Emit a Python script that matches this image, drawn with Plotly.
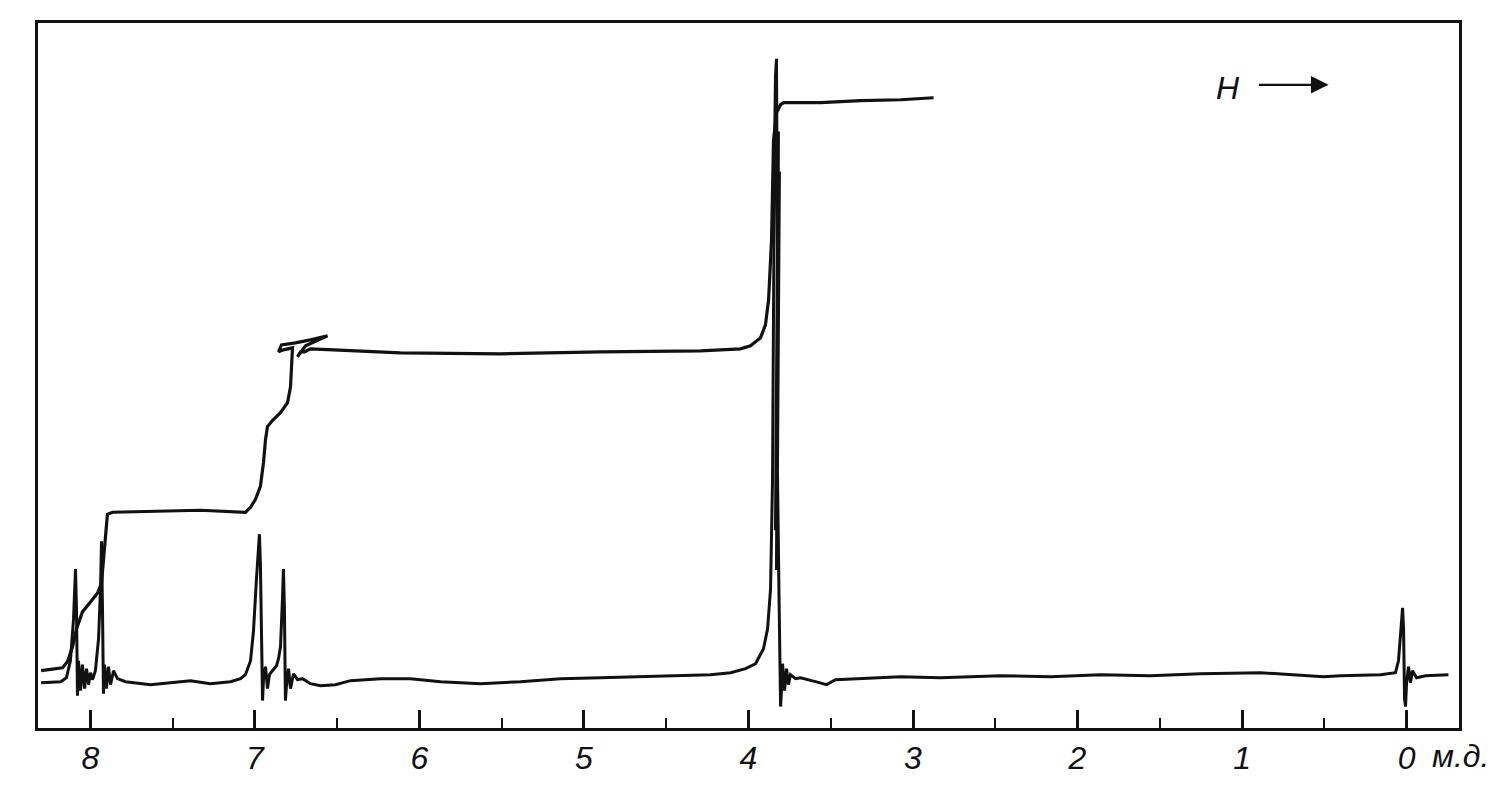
import plotly.graph_objects as go

# ---- data (chemical shift in ppm, intensity in arbitrary units) ----
spec_ppm = [8.30, 8.18, 8.146, 8.122, 8.103, 8.091, 8.085, 8.079, 8.073, 8.061, 8.049, 8.036, 8.024,
            8.012, 8.000, 7.988, 7.970, 7.951, 7.939, 7.933, 7.927, 7.921, 7.915, 7.903, 7.891, 7.878,
            7.860, 7.836, 7.787, 7.635, 7.514, 7.392, 7.271, 7.149, 7.088, 7.058, 7.027, 7.009, 6.991,
            6.979, 6.973, 6.967, 6.960, 6.954, 6.948, 6.936, 6.924, 6.912, 6.894, 6.869, 6.857, 6.845,
            6.833, 6.827, 6.821, 6.815, 6.809, 6.796, 6.784, 6.766, 6.742, 6.711, 6.663, 6.602, 6.511,
            6.419, 6.237, 6.055, 5.872, 5.629, 5.386, 5.143, 4.900, 4.657, 4.413, 4.231, 4.109, 4.018,
            3.957, 3.909, 3.884, 3.866, 3.854, 3.848, 3.842, 3.836, 3.830, 3.824, 3.836, 3.818, 3.830,
            3.812, 3.824, 3.815, 3.805, 3.799, 3.793, 3.781, 3.769, 3.757, 3.745, 3.714, 3.684, 3.593,
            3.526, 3.471, 3.319,
            3.076, 2.833, 2.468, 2.164, 1.860, 1.556, 1.252, 0.888, 0.644, 0.505, 0.401, 0.158, 0.067,
            0.049, 0.036, 0.024, 0.018, 0.012, 0.006, 0.000, -0.012, -0.024, -0.036, -0.061, -0.116,
            -0.255]
spec_int = [47, 48, 52, 69, 111, 161, 121, 34, 69, 39, 65, 41, 61,
            45, 57, 50, 59, 91, 141, 189, 121, 36, 65, 41, 63, 45,
            59, 51, 48, 45, 47, 49, 46, 48, 51, 55, 69, 99, 151,
            191, 196, 166, 91, 29, 51, 63, 41, 55, 59, 64, 71, 83,
            131, 161, 121, 29, 43, 61, 41, 56, 50, 51, 46, 44, 45,
            49, 51, 51, 48, 46, 48, 51, 52, 53, 54, 55, 57, 61,
            66, 81, 101, 141, 251, 431, 581, 656, 673, 480, 200, 600, 160,
            560, 260, 140, 23, 41, 66, 39, 61, 45, 55, 51, 52, 48,
            45, 50, 51,
            53, 52, 54, 53, 55, 54, 56, 57, 54, 53, 54, 55, 57,
            69, 96, 122, 101, 31, 23, 46, 63, 47, 59, 52, 54,
            55]

integ_ppm = [8.30, 8.17, 8.140, 8.109, 8.085, 8.049, 8.000, 7.957, 7.933, 7.921, 7.909, 7.897, 7.866,
             7.635, 7.331, 7.058, 7.027, 6.997, 6.967, 6.948, 6.936, 6.924, 6.894, 6.845, 6.802,
             6.784, 6.778, 6.772, 6.827, 6.857, 6.839, 6.754, 6.663, 6.559, 6.693, 6.742, 6.723,
             6.699, 6.663, 6.523, 6.116, 5.508, 4.900, 4.292, 4.049, 3.988, 3.927, 3.897, 3.878,
             3.860, 3.848, 3.830, 3.805, 3.787, 3.562, 3.319, 3.076, 2.875]
integ_int = [59, 62, 68, 83, 101, 118, 128, 137, 147, 171, 201, 216, 218,
             219, 220, 218, 223, 231, 244, 268, 291, 304, 310, 318, 328,
             344, 368, 383, 381, 379, 386, 388, 391, 395, 385, 374, 379,
             379, 382, 381, 378, 377, 379, 380, 382, 385, 393, 406, 431,
             491, 591, 619, 627, 629, 629, 631, 632, 634]

major_ticks = [8, 7, 6, 5, 4, 3, 2, 1, 0]
minor_ticks = [7.5, 6.5, 5.5, 4.5, 3.5, 2.5, 1.5, 0.5]
tick_labels = ["8", "7", "6", "5", "4", "3", "2", "1", "0"]
unit_label = "м.д."
field_label = "H"

ink = "#111111"

fig = go.Figure()
fig.add_trace(go.Scatter(x=integ_ppm, y=integ_int, mode="lines",
                         line=dict(color=ink, width=3.2), hoverinfo="skip", showlegend=False))
fig.add_trace(go.Scatter(x=spec_ppm, y=spec_int, mode="lines",
                         line=dict(color=ink, width=3), hoverinfo="skip", showlegend=False))

fig.update_layout(
    width=1488, height=780,
    margin=dict(l=30, r=37, t=14, b=58),
    paper_bgcolor="white", plot_bgcolor="white",
    showlegend=False,
    xaxis=dict(
        range=[8.319, -0.319],
        tickvals=major_ticks, ticktext=tick_labels,
        ticks="inside", ticklen=18, tickwidth=2.5, tickcolor=ink,
        minor=dict(tickvals=minor_ticks, ticks="inside", ticklen=10, tickwidth=2, tickcolor=ink),
        showline=True, linewidth=3, linecolor=ink, mirror=True,
        showgrid=False, zeroline=False,
        tickfont=dict(family="Liberation Sans", size=32, color=ink, style="italic"),
        ticklabelstandoff=0,
    ),
    yaxis=dict(
        range=[1.5, 709],
        showline=True, linewidth=3, linecolor=ink, mirror=True,
        showticklabels=False, ticks="", showgrid=False, zeroline=False,
    ),
    annotations=[
        dict(x=1.001, y=-0.04, xref="paper", yref="paper", text=unit_label, showarrow=False,
             xanchor="center", yanchor="middle",
             font=dict(family="Liberation Sans", size=32, color=ink, style="italic")),
        dict(x=1.088, y=644, xref="x", yref="y", text=field_label, showarrow=False,
             xanchor="center", yanchor="middle",
             font=dict(family="Liberation Sans", size=32, color=ink, style="italic")),
        dict(x=0.474, y=647, xref="x", yref="y", ax=0.906, ay=647, axref="x", ayref="y",
             text="", showarrow=True, arrowhead=2, arrowsize=1.6, arrowwidth=2.2, arrowcolor=ink),
    ],
)

fig.write_html("out.html")
